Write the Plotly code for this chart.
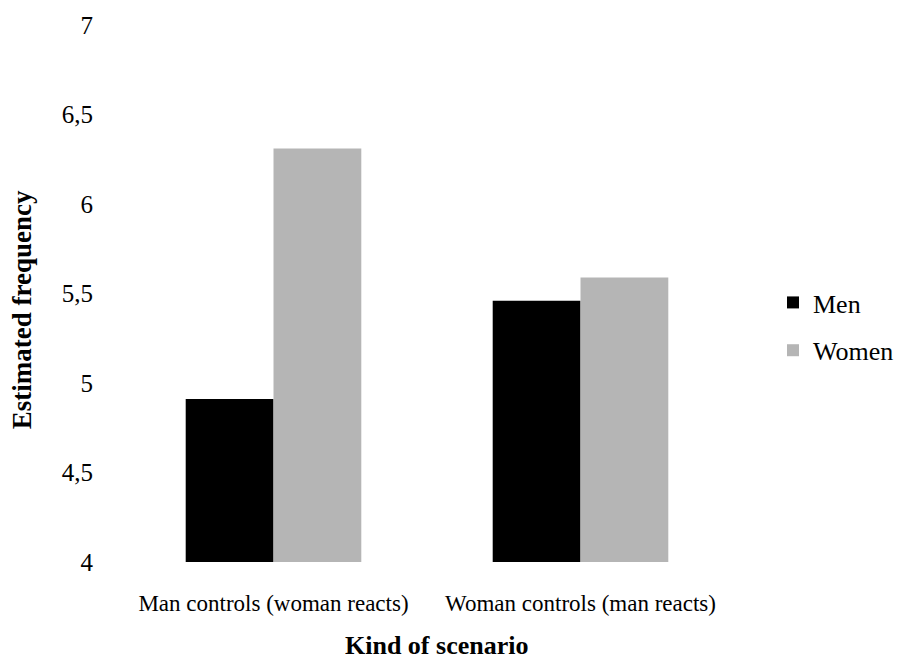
import plotly.graph_objects as go

categories = ["Man controls (woman reacts)", "Woman controls (man reacts)"]
men = [4.91, 5.46]
women = [6.31, 5.59]
y_ticks = [4, 4.5, 5, 5.5, 6, 6.5, 7]
y_tick_labels = ["4", "4,5", "5", "5,5", "6", "6,5", "7"]

FONT = "Liberation Serif, Times New Roman, serif"

fig = go.Figure()
fig.add_trace(go.Bar(x=categories, y=[v - 4 for v in men], base=4, name="Men",
                     marker=dict(color="#000000", line=dict(width=0)), legendgroup="a"))
fig.add_trace(go.Bar(x=categories, y=[v - 4 for v in women], base=4, name="Women",
                     marker=dict(color="#b5b5b5", line=dict(width=0)), legendgroup="b"))

fig.update_layout(
    width=907, height=655,
    margin=dict(l=112, r=181, t=17, b=101),
    plot_bgcolor="white", paper_bgcolor="white",
    barmode="group", bargap=0.428, bargroupgap=0,
    font=dict(family=FONT, color="#000000", size=20),
    showlegend=True,
    legend=dict(x=1.0635, y=0.4385, xanchor="left", yanchor="middle",
                font=dict(size=26, family=FONT), traceorder="grouped",
                tracegroupgap=11, itemwidth=30),
    xaxis=dict(showline=False, showgrid=False, ticks="", ticklabelstandoff=25,
               automargin=False,
               tickfont=dict(size=23, family=FONT)),
    yaxis=dict(range=[4, 7], tickvals=y_ticks, ticktext=y_tick_labels,
               automargin=False,
               showline=False, showgrid=False, zeroline=False, ticks="",
               ticklabelstandoff=26, tickfont=dict(size=25, family=FONT)),
    annotations=[
        dict(text="<b>Estimated frequency</b>", xref="paper", yref="paper",
             x=-0.1596, y=0.469, xanchor="center", yanchor="middle",
             textangle=-90, showarrow=False,
             font=dict(size=27, family=FONT)),
        dict(text="<b>Kind of scenario</b>", xref="paper", yref="paper",
             x=0.515, y=-0.155, xanchor="center", yanchor="middle",
             showarrow=False, font=dict(size=26, family=FONT)),
    ],
)

fig.write_html("out.html")
